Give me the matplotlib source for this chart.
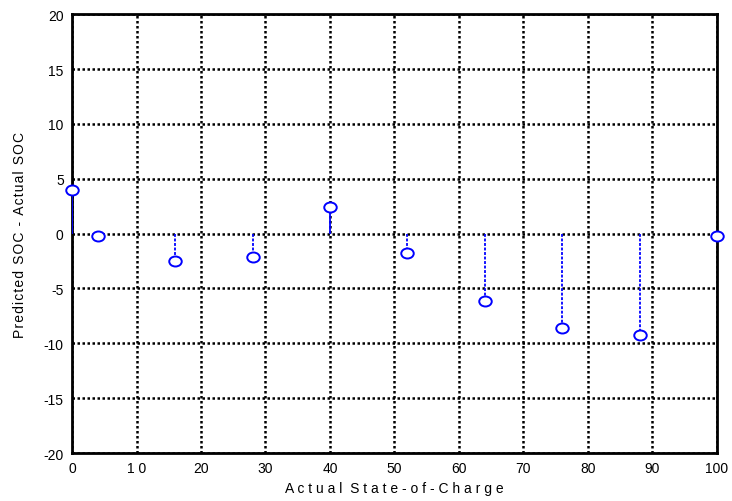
import matplotlib

matplotlib.use("Agg")
import matplotlib.pyplot as plt
from matplotlib.path import Path
from matplotlib.transforms import Affine2D

plt.rcParams["font.family"] = ["Liberation Sans", "DejaVu Sans"]
plt.rcParams["axes.unicode_minus"] = False

# actual SOC vs. prediction error
actual_soc = [0, 4, 16, 28, 40, 52, 64, 76, 88, 100]
soc_error = [4.0, -0.2, -2.5, -2.1, 2.4, -1.8, -6.1, -8.6, -9.2, -0.2]

x_ticks = [0, 10, 20, 30, 40, 50, 60, 70, 80, 90, 100]
x_tick_labels = ["0", "1 0", "20", "30", "40", "50", "60", "70", "80", "90", "100"]
y_ticks = [-20, -15, -10, -5, 0, 5, 10, 15, 20]

# slightly flattened circle, like the original plot's markers
ellipse = Affine2D().scale(1.0, 0.8).transform_path(Path.unit_circle())

fig = plt.figure(figsize=(7.32, 5.02), dpi=100)
ax = fig.add_axes([0.0984, 0.0956, 0.881, 0.874])

styles = ["-" if e > 0 else (0, (1.6, 0.9)) for e in soc_error]
ax.vlines(actual_soc, 0, soc_error, colors="blue", linestyles=styles, linewidth=1.3, zorder=3)
ax.plot(actual_soc, soc_error, marker=ellipse, linestyle="none", markerfacecolor="white",
        markeredgecolor="blue", markersize=9, markeredgewidth=1.4, zorder=4, clip_on=False)

ax.set_xlim(0, 100)
ax.set_ylim(-20, 20)
ax.set_xticks(x_ticks)
ax.set_xticklabels(x_tick_labels)
ax.set_yticks(y_ticks)
ax.grid(True, color="black", linestyle=(0, (1, 1)), linewidth=1.8)
ax.tick_params(length=0, labelsize=10, pad=6)
for s in ax.spines.values():
    s.set_linewidth(2)

ax.set_xlabel("A c t u a l  S t a t e - o f - C h a r g e", fontsize=10, labelpad=4)
ax.set_ylabel("\u200a".join("Predicted SOC - Actual SOC"), fontsize=10, labelpad=12)

fig.savefig("out.png", dpi=100)
